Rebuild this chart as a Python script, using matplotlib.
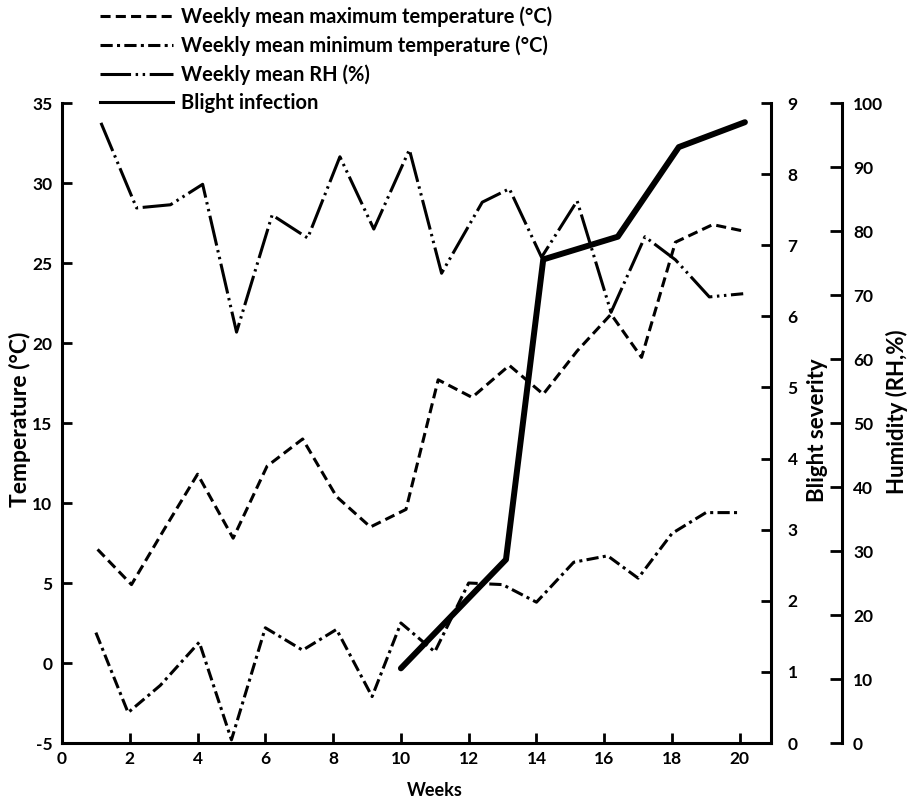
import matplotlib
matplotlib.use("Agg")
import matplotlib.pyplot as plt
from matplotlib.lines import Line2D

plt.rcParams['font.family'] = ['Lato', 'DejaVu Sans']
plt.rcParams['font.weight'] = 'bold'
plt.rcParams['axes.unicode_minus'] = False

# values (week positions are as drawn)
max_weeks = [1.05, 2.05, 3.0, 4.0, 5.05, 6.05, 7.1, 8.1, 9.1, 10.15,
             11.1, 12.1, 13.2, 14.2, 15.2, 16.2, 17.1, 18.1, 19.2, 20.1]
max_temp = [7.1, 4.9, 8.3, 11.8, 7.8, 12.3, 14.0, 10.4, 8.5, 9.6,
            17.7, 16.6, 18.6, 16.8, 19.5, 21.8, 19.1, 26.3, 27.4, 27.0]

min_weeks = [1.0, 1.95, 2.9, 4.05, 5.0, 6.0, 7.1, 8.1, 9.15, 10.0,
             11.0, 12.0, 13.0, 14.0, 15.1, 16.1, 17.0, 18.0, 19.0, 19.95]
min_temp = [1.9, -3.1, -1.4, 1.3, -4.8, 2.2, 0.8, 2.1, -2.1, 2.5,
            0.7, 5.0, 4.9, 3.8, 6.3, 6.7, 5.3, 8.1, 9.4, 9.4]

rh_weeks = [1.15, 2.2, 3.2, 4.15, 5.15, 6.2, 7.25, 8.2, 9.2, 10.25,
            11.2, 12.4, 13.2, 14.15, 15.2, 16.2, 17.2, 18.1, 19.1, 20.1]
rh = [96.9, 83.6, 84.1, 87.3, 64.2, 82.5, 78.9, 91.6, 80.3, 92.7,
      73.4, 84.5, 86.6, 75.9, 84.7, 67.3, 79.1, 75.5, 69.7, 70.2]

blight_weeks = [10.0, 13.1, 14.2, 16.4, 18.2, 20.15]
blight = [1.05, 2.58, 6.8, 7.12, 8.38, 8.73]

temp_ticks = [-5, 0, 5, 10, 15, 20, 25, 30, 35]
week_ticks = [0, 2, 4, 6, 8, 10, 12, 14, 16, 18, 20]
blight_ticks = [0, 1, 2, 3, 4, 5, 6, 7, 8, 9]
rh_ticks = [0, 10, 20, 30, 40, 50, 60, 70, 80, 90, 100]

fig = plt.figure(figsize=(9.08, 8.01), dpi=100)
ax = fig.add_axes([62 / 908, 1 - 743 / 801, (771 - 62) / 908, (743 - 103) / 801])
ax2 = ax.twinx()
ax3 = ax.twinx()

max_style = (0, (3.3, 1.7))
min_style = (0, (4, 1.4, 1, 1.4))
rh_style = (0, (10, 1.5, 0.8, 1.5, 0.8, 1.5))

ax.plot(max_weeks, max_temp, color='black', lw=2.2, linestyle=max_style)
ax.plot(min_weeks, min_temp, color='black', lw=2.2, linestyle=min_style)
ax3.plot(rh_weeks, rh, color='black', lw=2.2, linestyle=rh_style)
ax2.plot(blight_weeks, blight, color='black', lw=4.3,
         solid_capstyle='round', solid_joinstyle='round')

ax.set_xlim(0, 20.92)
ax.set_ylim(-5, 35)
ax.set_xticks(week_ticks)
ax.set_yticks(temp_ticks)
ax2.set_ylim(0, 9)
ax2.set_yticks(blight_ticks)
ax3.set_ylim(0, 100)
ax3.set_yticks(rh_ticks)

for s in ['top', 'right']:
    ax.spines[s].set_visible(False)
for s in ['top', 'left', 'bottom']:
    ax2.spines[s].set_visible(False)
    ax3.spines[s].set_visible(False)
ax3.spines['right'].set_position(('axes', (842 - 62) / 709))
for a in (ax, ax2, ax3):
    for s in a.spines.values():
        s.set_linewidth(2.2)

ax.tick_params(axis='both', direction='in', length=7, width=2, labelsize=12.5, pad=7)
ax.tick_params(axis='x', pad=6)
ax2.tick_params(axis='y', direction='in', length=7, width=2, labelsize=12.5, pad=12)
ax3.tick_params(axis='y', direction='in', length=9, width=2, labelsize=12.5, pad=8)

fig.text(20 / 908, 1 - 419 / 801, 'Temperature (°C)', rotation=90,
         ha='center', va='center', fontsize=16.5)
fig.text(817 / 908, 1 - 430 / 801, 'Blight severity', rotation=90,
         ha='center', va='center', fontsize=16)
fig.text(897 / 908, 1 - 412 / 801, 'Humidity (RH,%)', rotation=90,
         ha='center', va='center', fontsize=16)
fig.text(435 / 908, 1 - 790 / 801, 'Weeks', ha='center', va='center', fontsize=13)

handles = [Line2D([], [], color='black', lw=2.2, linestyle=max_style),
           Line2D([], [], color='black', lw=2.2, linestyle=min_style),
           Line2D([], [], color='black', lw=2.2, linestyle=rh_style),
           Line2D([], [], color='black', lw=2.2)]
labels = ['Weekly mean maximum temperature (°C)',
          'Weekly mean minimum temperature (°C)',
          'Weekly mean RH (%)',
          'Blight infection']
fig.legend(handles=handles, labels=labels, loc='upper left',
           bbox_to_anchor=(100 / 908, 1 - 6 / 801), frameon=False,
           fontsize=14.5, handlelength=3.6, handletextpad=0.4,
           labelspacing=0.42, borderpad=0, borderaxespad=0)

fig.savefig('out.png', dpi=100)
